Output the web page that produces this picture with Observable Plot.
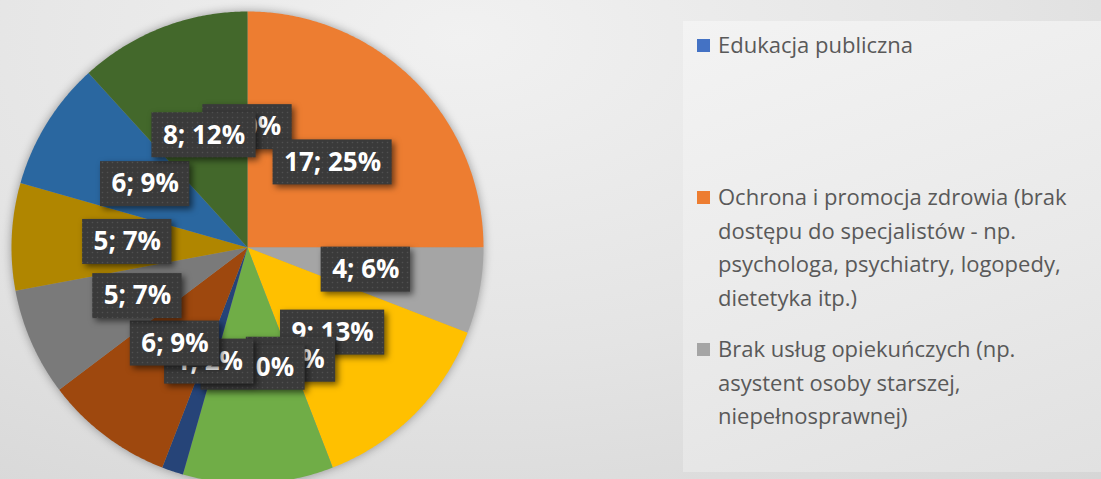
<!DOCTYPE html>
<html>
<head>
<meta charset="utf-8">
<script src="https://cdn.jsdelivr.net/npm/d3@7"></script>
<script src="https://cdn.jsdelivr.net/npm/@observablehq/plot@0.6"></script>
<style>
  html, body { margin: 0; padding: 0; width: 1101px; height: 479px; overflow: hidden; }
  body { background: radial-gradient(ellipse 90% 120% at 42% 8%, #f1f1f1 0%, #e4e4e4 55%, #d6d6d6 100%); position: relative; font-family: "Open Sans", sans-serif; }
  #chart { position: absolute; left: 0; top: 0; }
  #chart svg { background: transparent; overflow: hidden; }
  #chart g[aria-label="line"] { filter: drop-shadow(0 0 5px rgba(0,0,0,0.35)); }
  #chart g[aria-label="rect"] { filter: drop-shadow(3px 3px 3px rgba(0,0,0,0.55)); }
  #legend { position: absolute; left: 683px; top: 21px; width: 418px; height: 451px;
    background: linear-gradient(160deg, #f3f3f3 0%, #e9e9e9 60%, #e1e1e1 100%); }
  .item { position: absolute; left: 35px; width: 385px; font-size: 22px; line-height: 33.5px; color: #595959; }
  .sw { position: absolute; left: -21px; top: 11px; width: 13px; height: 13px; }
</style>
</head>
<body>
<div id="chart"></div>
<div id="legend"></div>
<script>
// ---- data ----
const categories = [
  "Edukacja publiczna",
  "Ochrona i promocja zdrowia (brak dostępu do specjalistów - np. psychologa, psychiatry, logopedy, dietetyka itp.)",
  "Brak usług opiekuńczych (np. asystent osoby starszej, niepełnosprawnej)",
  "Kategoria 4", "Kategoria 5", "Kategoria 6", "Kategoria 7", "Kategoria 8",
  "Kategoria 9", "Kategoria 10", "Kategoria 11", "Kategoria 12"
];
const values   = [0, 17, 4, 9, 0, 7, 1, 6, 5, 5, 6, 8];
const percents = [0, 25, 6, 13, 0, 10, 2, 9, 7, 7, 9, 12];
const legendShown = 3;

// palette (Excel default series colours)
const palette = ["#4472C4", "#ED7D31", "#A5A5A5", "#FFC000", "#5B9BD5", "#70AD47",
                 "#264478", "#9E480E", "#7A7A7A", "#B08600", "#2A67A0", "#43682B"];

// ---- layout ----
const W = 1101, H = 479, cx = 247, cy = 247, R = 236;
const labelR = 0.51;
const labelFont = "700 26px 'Open Sans'";

const arcs = d3.pie().sort(null).startAngle(0).endAngle(2 * Math.PI)(values);

// slice outlines in unit coordinates (angle measured clockwise from top)
const slicePts = [];
arcs.forEach((a, i) => {
  const n = Math.max(2, Math.ceil((a.endAngle - a.startAngle) / (Math.PI / 360)));
  slicePts.push({k: i, x: 0, y: 0, c: palette[i]});
  for (let j = 0; j <= n; j++) {
    const t = a.startAngle + (a.endAngle - a.startAngle) * j / n;
    slicePts.push({k: i, x: Math.sin(t), y: Math.cos(t), c: palette[i]});
  }
  slicePts.push({k: i, x: 0, y: 0, c: palette[i]});
});

// labels
const ctx = document.createElement("canvas").getContext("2d");
ctx.font = labelFont;
const labels = arcs.map((a, i) => {
  const m = (a.startAngle + a.endAngle) / 2;
  const text = `${values[i]}; ${percents[i]}%`;
  const w = ctx.measureText(text).width;
  const x = labelR * Math.sin(m), y = labelR * Math.cos(m);
  const hw = (w / 2 + 11) / R, hh = 22.5 / R;
  return {text, x, y, x1: x - hw, x2: x + hw, y1: y - hh, y2: y + hh};
});

const marks = [
  Plot.line(slicePts, {x: "x", y: "y", z: "k", fill: "c", stroke: "none", curve: "linear"})
];
labels.forEach(d => {
  marks.push(Plot.rect([d], {x1: "x1", x2: "x2", y1: "y1", y2: "y2", fill: "url(#dots)"}));
  marks.push(Plot.text([d], {x: "x", y: "y", text: "text", fill: "white",
    fontSize: 26, fontWeight: 700, fontFamily: "Open Sans", textAnchor: "middle"}));
});

const plot = Plot.plot({
  width: W, height: H,
  margin: 0,
  x: {domain: [-1, 1], range: [cx - R, cx + R], axis: null},
  y: {domain: [-1, 1], range: [cy + R, cy - R], axis: null},
  color: {type: "identity"},
  style: {background: "transparent", fontFamily: "Open Sans"},
  marks
});

plot.insertAdjacentHTML("afterbegin",
  `<defs><pattern id="dots" width="5" height="5" patternUnits="userSpaceOnUse">
     <rect width="5" height="5" fill="#3a3a3a"></rect>
     <circle cx="2.5" cy="2.5" r="0.8" fill="#505050"></circle>
   </pattern></defs>`);
document.getElementById("chart").appendChild(plot);

// legend (only first entries are visible in the reference)
const legend = document.getElementById("legend");
const tops = [7, 159, 311];
for (let i = 0; i < legendShown; i++) {
  const it = document.createElement("div");
  it.className = "item";
  it.style.top = tops[i] + "px";
  const sw = document.createElement("span");
  sw.className = "sw";
  sw.style.background = palette[i];
  it.appendChild(sw);
  it.appendChild(document.createTextNode(categories[i]));
  legend.appendChild(it);
}
</script>
</body>
</html>
